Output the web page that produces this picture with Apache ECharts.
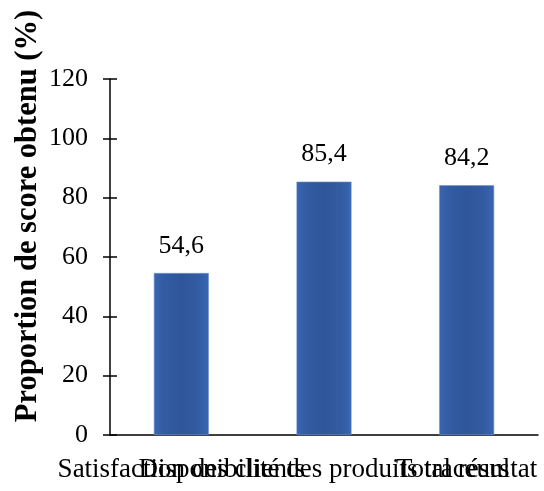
<!DOCTYPE html>
<html>
<head>
<meta charset="utf-8">
<script src="https://cdn.jsdelivr.net/npm/echarts@6/dist/echarts.min.js"></script>
<style>html,body{margin:0;padding:0;background:#fff}#c{width:544px;height:491px}</style>
</head>
<body>
<div id="c"></div>
<script>
const categories = ['Satisfaction des clients', 'Disponibilité des produits traceurs', 'Total résultat'];
const values = [54.6, 85.4, 84.2];
const yTicks = [0, 20, 40, 60, 80, 100, 120];
const yTitle = 'Proportion de score obtenu (%)';

const font = '"Liberation Serif", "Times New Roman", serif';
const chart = echarts.init(document.getElementById('c'), null, {renderer: 'canvas'});
const barColor = new echarts.graphic.LinearGradient(0, 0, 1, 0, [
  {offset: 0, color: '#3965b1'},
  {offset: 0.2, color: '#325ba2'},
  {offset: 0.5, color: '#2f5699'},
  {offset: 0.8, color: '#325ba2'},
  {offset: 1, color: '#3965b1'}
]);
chart.setOption({
  animation: false,
  grid: {left: 110, right: 6, top: 79, bottom: 56, containLabel: false},
  graphic: [{
    type: 'text',
    x: 28, y: 216,
    rotation: Math.PI / 2,
    style: {
      text: yTitle,
      font: 'bold 30.5px ' + font,
      fill: '#000',
      textAlign: 'center',
      textVerticalAlign: 'middle'
    }
  }],
  xAxis: {
    type: 'category',
    data: categories,
    axisLine: {lineStyle: {color: '#000', width: 1.5}},
    axisTick: {show: false},
    axisLabel: {interval: 0, color: '#000', fontFamily: font, fontSize: 27, margin: 21, overflow: 'none'},
    splitLine: {show: false}
  },
  yAxis: [{
    type: 'value',
    min: yTicks[0], max: yTicks[yTicks.length - 1], interval: 20,
    axisLine: {show: true, lineStyle: {color: '#000', width: 1.5}},
    axisTick: {show: true, length: 7, lineStyle: {color: '#000', width: 1.5}},
    axisLabel: {color: '#000', fontFamily: font, fontSize: 26, margin: 22},
    splitLine: {show: false}
  }, {
    type: 'value',
    position: 'left',
    min: yTicks[0], max: yTicks[yTicks.length - 1], interval: 20,
    axisLine: {show: false},
    axisTick: {show: true, inside: true, length: 7, lineStyle: {color: '#000', width: 1.5}},
    axisLabel: {show: false},
    splitLine: {show: false}
  }],
  series: [{
    type: 'bar',
    data: values,
    barWidth: 55,
    itemStyle: {color: barColor, borderColor: '#7393d0', borderWidth: 0.6},
    label: {
      show: true, position: 'top', distance: 14,
      color: '#000', fontFamily: font, fontSize: 26,
      formatter: p => String(p.value).replace('.', ',')
    }
  }]
});
</script>
</body>
</html>
